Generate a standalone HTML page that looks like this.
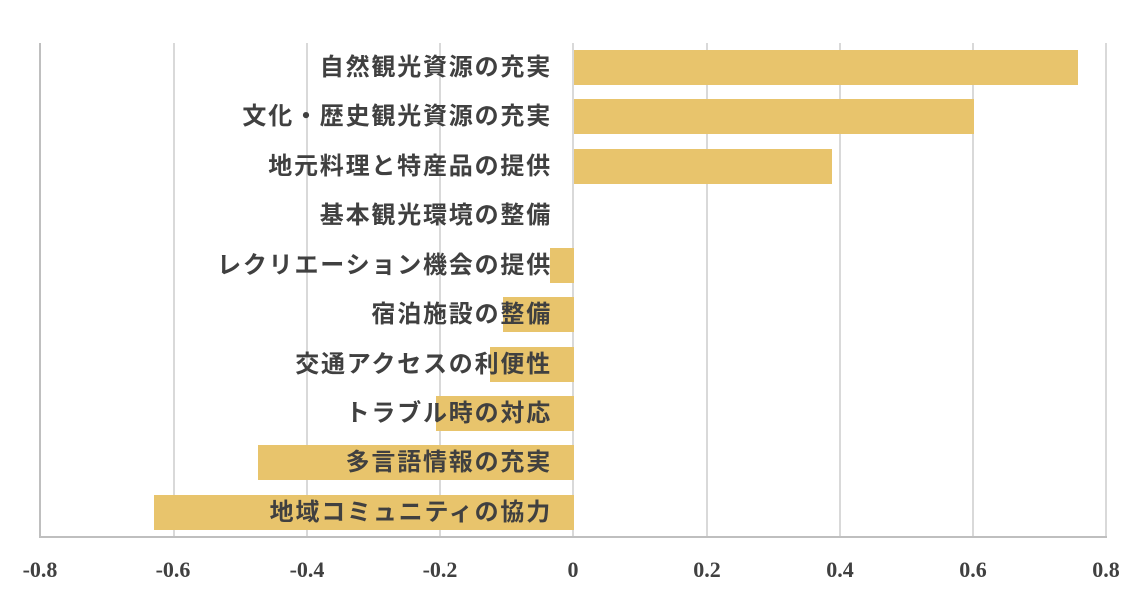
<!DOCTYPE html>
<html><head><meta charset="utf-8"><style>
html,body{margin:0;padding:0;background:#fff;}
body{width:1148px;height:597px;position:relative;overflow:hidden;}
.g{position:absolute;top:43px;height:494px;width:2px;background:#d9d9d9;}
.bar{position:absolute;height:35px;background:#e8c46c;}
.lab{position:absolute;right:596px;height:35px;line-height:35px;font-family:"Liberation Sans","Noto Sans CJK JP",sans-serif;font-size:24px;font-weight:bold;color:#404040;letter-spacing:1.8px;white-space:nowrap;}
.t{position:absolute;top:557px;width:80px;margin-left:-40px;text-align:center;font-family:"Liberation Serif",serif;font-weight:bold;font-size:22px;color:#404040;}
</style></head><body>
<div class="g" style="left:39px;background:#bfbfbf"></div>
<div class="g" style="left:173px"></div>
<div class="g" style="left:306px"></div>
<div class="g" style="left:439px"></div>
<div class="g" style="left:572px"></div>
<div class="g" style="left:706px"></div>
<div class="g" style="left:839px"></div>
<div class="g" style="left:972px"></div>
<div class="g" style="left:1105px"></div>
<div style="position:absolute;left:39px;top:536px;width:1068px;height:2px;background:#bfbfbf"></div>

<div class="bar" style="left:574px;width:504px;top:50px"></div>
<div class="bar" style="left:574px;width:400px;top:99px"></div>
<div class="bar" style="left:574px;width:258px;top:149px"></div>
<div class="bar" style="left:550px;width:24px;top:248px"></div>
<div class="bar" style="left:503px;width:71px;top:297px"></div>
<div class="bar" style="left:490px;width:84px;top:347px"></div>
<div class="bar" style="left:436px;width:138px;top:396px"></div>
<div class="bar" style="left:258px;width:316px;top:445px"></div>
<div class="bar" style="left:154px;width:420px;top:495px"></div>

<div class="lab" style="top:50px">自然観光資源の充実</div>
<div class="lab" style="top:99px">文化・歴史観光資源の充実</div>
<div class="lab" style="top:149px">地元料理と特産品の提供</div>
<div class="lab" style="top:198px">基本観光環境の整備</div>
<div class="lab" style="top:248px">レクリエーション機会の提供</div>
<div class="lab" style="top:297px">宿泊施設の整備</div>
<div class="lab" style="top:347px">交通アクセスの利便性</div>
<div class="lab" style="top:396px">トラブル時の対応</div>
<div class="lab" style="top:445px">多言語情報の充実</div>
<div class="lab" style="top:495px">地域コミュニティの協力</div>

<div class="t" style="left:40px">-0.8</div>
<div class="t" style="left:173px">-0.6</div>
<div class="t" style="left:307px">-0.4</div>
<div class="t" style="left:440px">-0.2</div>
<div class="t" style="left:573px">0</div>
<div class="t" style="left:707px">0.2</div>
<div class="t" style="left:840px">0.4</div>
<div class="t" style="left:973px">0.6</div>
<div class="t" style="left:1106px">0.8</div>
</body></html>
